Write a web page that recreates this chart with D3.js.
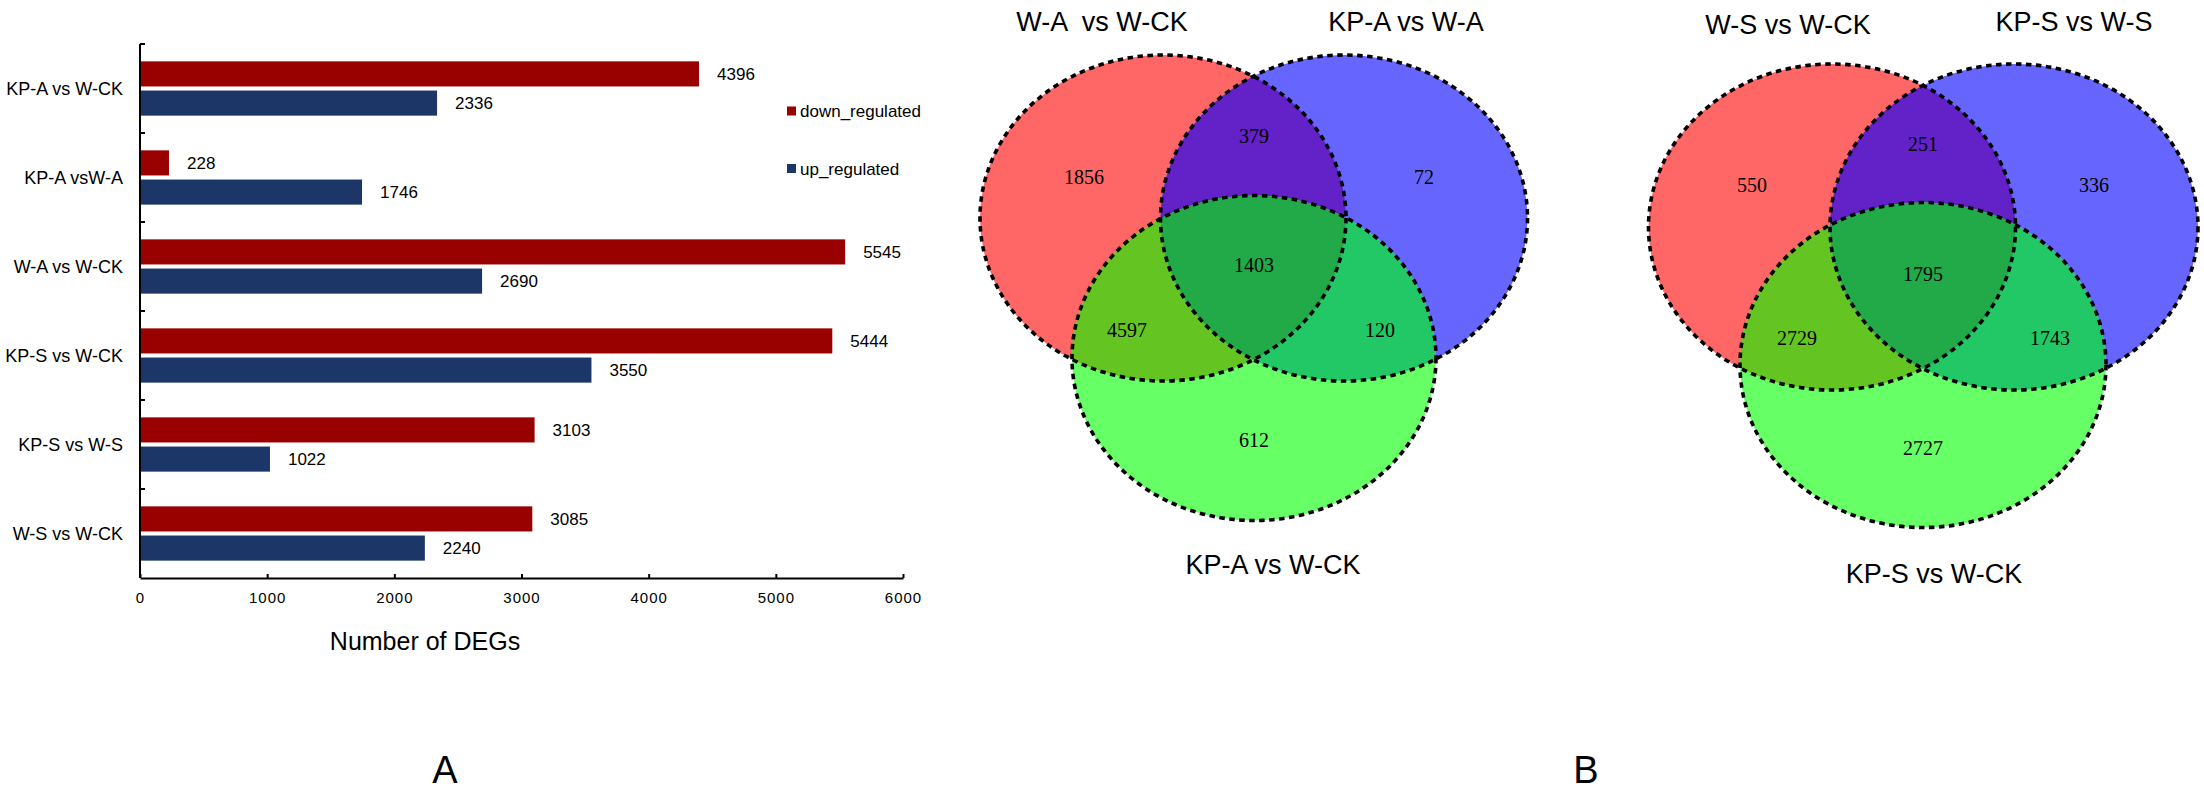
<!DOCTYPE html>
<html><head><meta charset="utf-8">
<script src="https://cdn.jsdelivr.net/npm/d3@7"></script>
<style>
html,body{margin:0;padding:0;background:#fff;}
svg{display:block;}
</style></head>
<body>
<svg id="chart" width="2204" height="792"></svg>
<script>
// ---------------- DATA ----------------
const categories = ["KP-A vs W-CK", "KP-A vsW-A", "W-A vs W-CK", "KP-S vs W-CK", "KP-S vs W-S", "W-S vs W-CK"];
const seriesNames = ["down_regulated", "up_regulated"];
const downRegulated = [4396, 228, 5545, 5444, 3103, 3085];
const upRegulated = [2336, 1746, 2690, 3550, 1022, 2240];
const xTicks = [0, 1000, 2000, 3000, 4000, 5000, 6000];
const xTitle = "Number of DEGs";

const regionKeys = ["R", "RB", "B", "RBG", "RG", "BG", "G"];
const venn1Sets = ["W-A  vs W-CK", "KP-A vs W-A", "KP-A vs W-CK"];
const venn1Counts = [1856, 379, 72, 1403, 4597, 120, 612];
const venn2Sets = ["W-S vs W-CK", "KP-S vs W-S", "KP-S vs W-CK"];
const venn2Counts = [550, 251, 336, 1795, 2729, 1743, 2727];
const panelLetters = ["A", "B"];

// ---------------- STYLE ----------------
const sansFont = "Arial, 'Liberation Sans', Helvetica, sans-serif";
const serifFont = "'Times New Roman', 'Liberation Serif', serif";
const colDown = "#990000", colUp = "#1c3668";

const svg = d3.select("#chart");

// ---------------- BAR CHART (A) ----------------
const bar = {left: 140, right: 903, top: 44, bottom: 578};
const x = d3.scaleLinear().domain([0, 6000]).range([bar.left, bar.right]);
const y = d3.scaleBand().domain(categories).range([bar.top, bar.bottom]).paddingInner(0.39).paddingOuter(0.195);
const ySub = d3.scaleBand().domain(seriesNames).range([0, y.bandwidth()]).paddingInner(0.14);
const colorScale = d3.scaleOrdinal().domain(seriesNames).range([colDown, colUp]);

const rows = categories.map((c, i) => ({cat: c, values: [
  {s: seriesNames[0], v: downRegulated[i]},
  {s: seriesNames[1], v: upRegulated[i]}
]}));

const gBar = svg.append("g");
const groups = gBar.selectAll("g.cat").data(rows).join("g")
  .attr("transform", d => `translate(0,${y(d.cat)})`);
groups.selectAll("rect").data(d => d.values).join("rect")
  .attr("x", x(0))
  .attr("y", d => ySub(d.s))
  .attr("width", d => x(d.v) - x(0))
  .attr("height", ySub.bandwidth())
  .attr("fill", d => colorScale(d.s));
groups.selectAll("text.val").data(d => d.values).join("text")
  .attr("class", "val")
  .attr("x", d => x(d.v) + 18)
  .attr("y", d => ySub(d.s) + ySub.bandwidth() / 2)
  .attr("dy", "0.36em")
  .attr("font-family", sansFont).attr("font-size", 17)
  .attr("fill", "#000")
  .text(d => d.v);

// category labels
gBar.selectAll("text.cat").data(categories).join("text")
  .attr("class", "cat")
  .attr("x", bar.left - 17)
  .attr("y", d => y(d) + y.bandwidth() / 2)
  .attr("dy", "0.36em")
  .attr("text-anchor", "end")
  .attr("font-family", sansFont).attr("font-size", 18)
  .text(d => d);

// y axis: line and boundary ticks pointing inward
gBar.append("line").attr("x1", bar.left).attr("x2", bar.left)
  .attr("y1", bar.top).attr("y2", bar.bottom).attr("stroke", "#000").attr("stroke-width", 2);
const boundaries = categories.map(c => y(c) - y.step() * y.paddingInner() / 2);
boundaries[0] = bar.top;
gBar.selectAll("line.ytick").data(boundaries).join("line")
  .attr("x1", bar.left).attr("x2", bar.left + 5)
  .attr("y1", d => d).attr("y2", d => d)
  .attr("stroke", "#000").attr("stroke-width", 2);

// x axis
const xAxis = d3.axisBottom(x).tickValues(xTicks).tickFormat(d3.format("d"))
  .tickSizeInner(-4).tickSizeOuter(0).tickPadding(14);
const gx = gBar.append("g").attr("transform", `translate(0,${bar.bottom})`).call(xAxis);
gx.select(".domain").attr("stroke", "#000").attr("stroke-width", 2);
gx.selectAll(".tick line").attr("stroke", "#000").attr("stroke-width", 2);
gx.selectAll(".tick text").attr("font-family", sansFont).attr("font-size", 15)
  .attr("letter-spacing", "1px").attr("fill", "#000");

gBar.append("text").attr("x", 425).attr("y", 650)
  .attr("text-anchor", "middle").attr("font-family", sansFont).attr("font-size", 25)
  .text(xTitle);

// legend
const legend = gBar.selectAll("g.leg").data(seriesNames).join("g")
  .attr("transform", (d, i) => `translate(787,${111 + i * 57.5})`);
legend.append("rect").attr("x", 0).attr("y", -4.5).attr("width", 9).attr("height", 9)
  .attr("fill", d => colorScale(d));
legend.append("text").attr("x", 13).attr("y", 0).attr("dy", "0.36em")
  .attr("font-family", sansFont).attr("font-size", 17).text(d => d);

// ---------------- VENN DIAGRAMS (B) ----------------
const vennFill = {R: "#ff6666", B: "#6666ff", G: "#66ff66", RB: "#6222c8", RG: "#64c422", BG: "#22c866", RBG: "#22aa48"};

function drawVenn(id, geo, sets, counts, titlePos, labelOff) {
  const g = svg.append("g");
  const defs = g.append("defs");
  const ells = {R: geo[0], B: geo[1], G: geo[2]};
  Object.entries(ells).forEach(([k, e]) => {
    defs.append("clipPath").attr("id", `${id}-${k}`)
      .append("ellipse").attr("cx", e.cx).attr("cy", e.cy).attr("rx", e.rx).attr("ry", e.ry);
  });
  const ell = (sel, e) => sel.append("ellipse").attr("cx", e.cx).attr("cy", e.cy).attr("rx", e.rx).attr("ry", e.ry);
  ["R", "B", "G"].forEach(k => ell(g, ells[k]).attr("fill", vennFill[k]));
  ell(g.append("g").attr("clip-path", `url(#${id}-R)`), ells.B).attr("fill", vennFill.RB);
  ell(g.append("g").attr("clip-path", `url(#${id}-R)`), ells.G).attr("fill", vennFill.RG);
  ell(g.append("g").attr("clip-path", `url(#${id}-B)`), ells.G).attr("fill", vennFill.BG);
  ell(g.append("g").attr("clip-path", `url(#${id}-B)`).append("g").attr("clip-path", `url(#${id}-R)`), ells.G)
    .attr("fill", vennFill.RBG);
  ["R", "B", "G"].forEach(k => ell(g, ells[k]).attr("fill", "none")
    .attr("stroke", "#000").attr("stroke-width", 3.6).attr("stroke-dasharray", "5.5,4.5"));

  // region labels
  const pts = regionKeys.map((k, i) => ({k, v: counts[i], p: labelOff[k]}));
  g.selectAll("text.cnt").data(pts).join("text")
    .attr("x", d => d.p[0]).attr("y", d => d.p[1]).attr("dy", "0.35em")
    .attr("text-anchor", "middle").attr("font-family", serifFont).attr("font-size", 20)
    .attr("fill", "#000")
    .text(d => d.v);
  // set titles
  g.selectAll("text.set").data(sets).join("text")
    .attr("x", (d, i) => titlePos[i][0]).attr("y", (d, i) => titlePos[i][1])
    .attr("text-anchor", "middle").attr("font-family", sansFont).attr("font-size", 27)
    .attr("xml:space", "preserve").style("white-space", "pre")
    .text(d => d);
}

drawVenn("v1",
  [{cx: 1163, cy: 218, rx: 183, ry: 163}, {cx: 1344, cy: 218, rx: 183.5, ry: 163}, {cx: 1254, cy: 358, rx: 182, ry: 162.5}],
  venn1Sets, venn1Counts,
  [[1102, 31], [1406, 31], [1273, 574]],
  {R: [1084, 177], RB: [1254, 136], B: [1424, 177], RBG: [1254, 265], RG: [1127, 330], BG: [1380, 330], G: [1254, 440]});

drawVenn("v2",
  [{cx: 1832, cy: 227, rx: 183.5, ry: 163}, {cx: 2014, cy: 227, rx: 184, ry: 163}, {cx: 1923, cy: 365, rx: 183, ry: 162.5}],
  venn2Sets, venn2Counts,
  [[1788, 34], [2074, 31], [1934, 583]],
  {R: [1752, 185], RB: [1923, 144], B: [2094, 185], RBG: [1923, 274], RG: [1797, 338], BG: [2050, 338], G: [1923, 448]});

// panel letters
svg.selectAll("text.panel").data(panelLetters).join("text")
  .attr("x", (d, i) => [445, 1586][i]).attr("y", 783)
  .attr("text-anchor", "middle").attr("font-family", sansFont).attr("font-size", 38)
  .text(d => d);
</script>
</body></html>
